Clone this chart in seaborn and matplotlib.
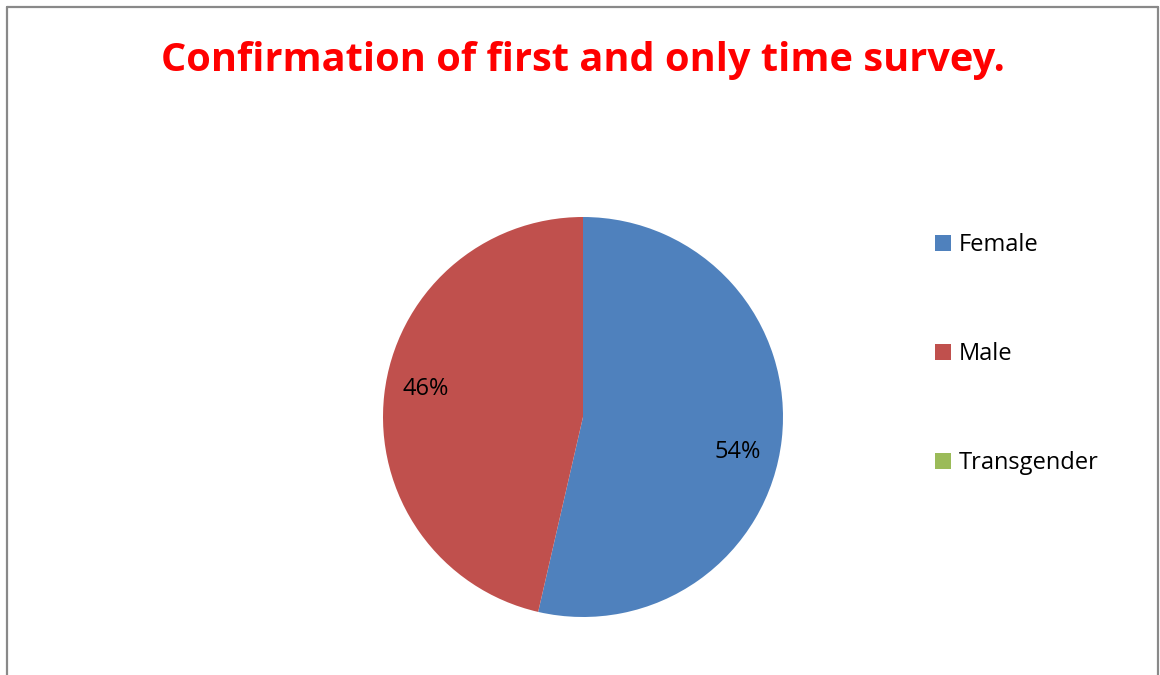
import seaborn as sns
import matplotlib.pyplot as plt
from matplotlib.lines import Line2D

# data
categories = ["Female", "Male", "Transgender"]
shares = [53.6, 46.4, 0]
colors = ["#4F81BD", "#C0504D", "#9BBB59"]

sns.set_theme(style="white")
plt.rcParams['font.family'] = ['Open Sans', 'DejaVu Sans']

W, H = 1160, 675
fig = plt.figure(figsize=(W / 100, H / 100), dpi=100)

# pie axes: centre (583, 417), radius 200 px
cx, cy, r = 583, 417, 200
ax = fig.add_axes([(cx - r) / W, (H - cy - r) / H, 2 * r / W, 2 * r / H])


def pct(v):
    return f"{v:.0f}%" if v > 0.5 else ""


wedges, texts, autotexts = ax.pie(
    shares, colors=colors, startangle=90, counterclock=False,
    autopct=pct, pctdistance=0.79, radius=1,
    textprops=dict(fontsize=17, color="black"),
    wedgeprops=dict(linewidth=0))
ax.set_xlim(-1, 1)
ax.set_ylim(-1, 1)
ax.set_aspect("equal")

# Excel "best fit" label spots
autotexts[0].set_position((0.775, -0.175))
autotexts[1].set_position((-0.785, 0.14))

fig.text(583 / W, 1 - 60 / H, "Confirmation of first and only time survey.",
         ha="center", va="center", color="#FF0000", fontsize=28.6,
         fontweight="bold")

fig.legend(wedges, categories, loc="upper left",
           bbox_to_anchor=(926 / W, 1 - 224 / H), frameon=False,
           fontsize=17, handlelength=0.65, handleheight=0.65,
           handletextpad=0.35, labelspacing=3.6, borderaxespad=0,
           labelcolor="black")

# chart frame (left, top, right edges)
fc = "#898989"
fig.add_artist(Line2D([7 / W, 7 / W], [0, 1 - 7 / H], color=fc, lw=1.6,
                      transform=fig.transFigure))
fig.add_artist(Line2D([7 / W, 1158 / W], [1 - 7 / H, 1 - 7 / H], color=fc,
                      lw=1.6, transform=fig.transFigure))
fig.add_artist(Line2D([1158 / W, 1158 / W], [0, 1 - 7 / H], color=fc,
                      lw=1.6, transform=fig.transFigure))

fig.savefig("out.png", dpi=100, facecolor="white")
